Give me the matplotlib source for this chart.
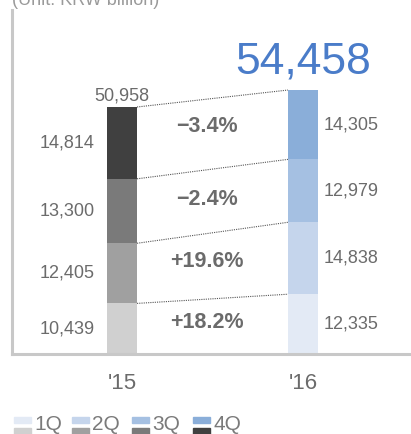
import numpy as np
import matplotlib
matplotlib.use("Agg")
import matplotlib.pyplot as plt
from matplotlib.patches import Rectangle

plt.rcParams['font.family'] = ['Liberation Sans', 'DejaVu Sans']

# data
quarters = ['1Q', '2Q', '3Q', '4Q']
years = ["'15", "'16"]
vals_15 = [10439, 12405, 13300, 14814]
vals_16 = [12335, 14838, 12979, 14305]
growth = ['+18.2%', '+19.6%', '\u22122.4%', '\u22123.4%']
total_15 = 50958
total_16 = 54458

colors_15 = ['#d0d0d0', '#a0a0a0', '#7a7a7a', '#404040']
colors_16 = ['#e3eaf5', '#c5d5ec', '#a5c0e2', '#8aaed9']

W, H = 411, 434
fig = plt.figure(figsize=(W / 100, H / 100), dpi=100)
ax = fig.add_axes([12 / W, (H - 354) / H, 399 / W, 344 / H])

bw = 0.166
x = np.arange(len(years))
bot15 = np.concatenate([[0], np.cumsum(vals_15)[:-1]])
bot16 = np.concatenate([[0], np.cumsum(vals_16)[:-1]])
top15 = np.cumsum(vals_15)
top16 = np.cumsum(vals_16)

ax.bar(x[0], vals_15, bw, bottom=bot15, color=colors_15, linewidth=0)
ax.bar(x[1], vals_16, bw, bottom=bot16, color=colors_16, linewidth=0)

pct_shift = [800, 800, 300, 1500]
for i in range(4):
    ax.plot([x[0] + bw / 2, x[1] - bw / 2], [top15[i], top16[i]],
            linestyle=(0, (1, 1)), color='#555555', lw=0.8)
    ax.text(x[0] - 0.15, bot15[i] + vals_15[i] / 2, f'{vals_15[i]:,}',
            ha='right', va='center', fontsize=13, color='#6b6b6b')
    ax.text(x[1] + 0.115, bot16[i] + vals_16[i] / 2, f'{vals_16[i]:,}',
            ha='left', va='center', fontsize=13, color='#6b6b6b')
    mid = (bot15[i] + vals_15[i] / 2 + bot16[i] + vals_16[i] / 2) / 2
    ax.text(0.47, mid + pct_shift[i], growth[i], ha='center', va='center',
            fontsize=15.5, fontweight='bold', color='#6b6b6b')

ax.text(x[0], total_15 + 500, f'{total_15:,}', ha='center', va='bottom',
        fontsize=13, color='#6b6b6b')
ax.text(x[1], total_16 + 1500, f'{total_16:,}', ha='center', va='bottom',
        fontsize=32, color='#4a7cc9')

ax.set_xlim(-0.608, 1.597)
ax.set_ylim(0, 70970)
ax.set_xticks(x)
ax.set_xticklabels(years, fontsize=16, color='#6b6b6b')
ax.tick_params(axis='x', length=0, pad=14)
ax.set_yticks([])
for s in ['top', 'right']:
    ax.spines[s].set_visible(False)
for s in ['left', 'bottom']:
    ax.spines[s].set_color('#c8c8c8')
    ax.spines[s].set_linewidth(2.2)

# unit caption, cut off at the top edge as in the source
fig.text(12 / W, 1 + 8 / H, '(Unit: KRW billion)', ha='left', va='top',
         fontsize=13, color='#9a9a9a')

# legend drawn by hand
lx = [14, 72, 132, 193]
for i, q in enumerate(quarters):
    fig.patches.append(Rectangle((lx[i] / W, (H - 423) / H), 17 / W, 6 / H,
                                 transform=fig.transFigure, color=colors_16[i]))
    fig.patches.append(Rectangle((lx[i] / W, 0), 17 / W, 6 / H,
                                 transform=fig.transFigure, color=colors_15[i]))
    fig.text((lx[i] + 20) / W, (H - 425) / H, q, ha='left', va='center',
             fontsize=15, color='#7a7a7a')

fig.savefig('out.png', dpi=100)
